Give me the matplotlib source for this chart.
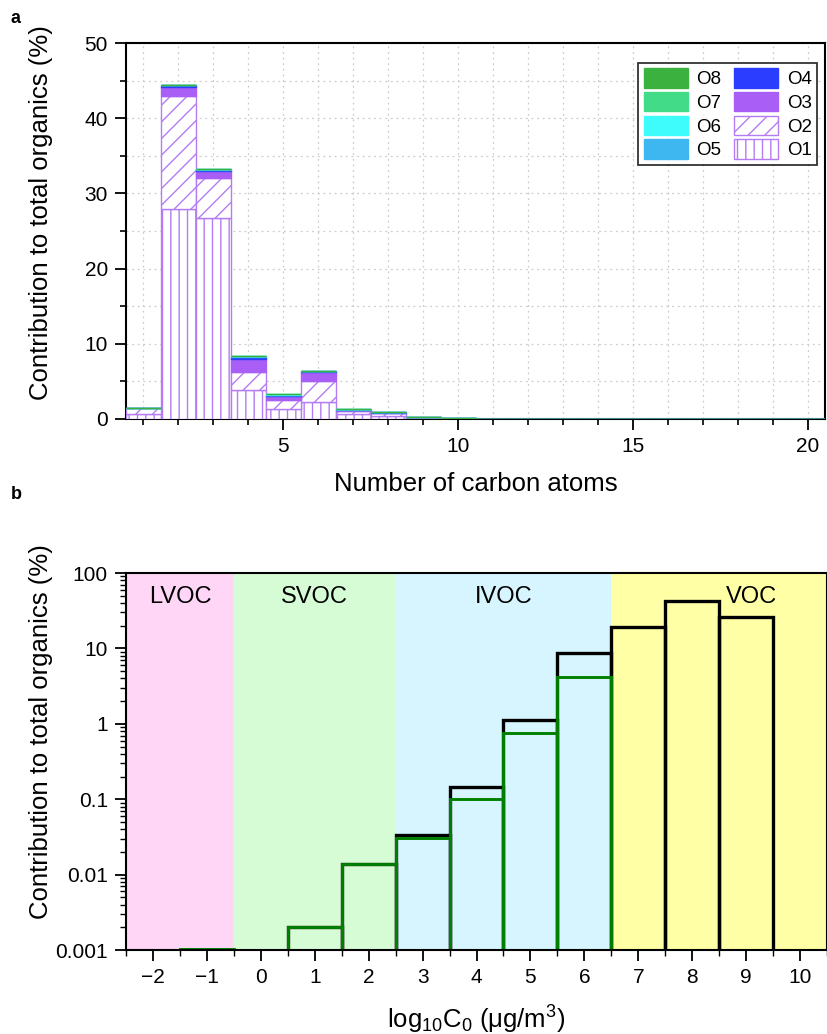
import numpy as np
import matplotlib
matplotlib.use('Agg')
import matplotlib.pyplot as plt
from matplotlib.ticker import MultipleLocator, FixedLocator, FuncFormatter, LogLocator

plt.rcParams['font.family'] = ['Liberation Sans', 'DejaVu Sans']
plt.rcParams['mathtext.default'] = 'regular'
plt.rcParams['hatch.linewidth'] = 1.0

# ---- panel a data: contribution (%) per carbon number, by oxygen count
carbon = np.arange(1, 21)
o1 = [0.7, 27.9, 26.7, 3.9, 1.3, 2.3, 0.72, 0.45, 0.1, 0.04] + [0.0] * 10
o2 = [0.8, 15.1, 5.3, 2.4, 1.2, 2.75, 0.35, 0.3, 0.08, 0.03] + [0.0] * 10
o3 = [0.0, 1.2, 1.0, 1.7, 0.5, 1.15, 0.1, 0.07, 0.03, 0.02] + [0.0] * 10
o4 = [0.0, 0.15, 0.15, 0.3, 0.2, 0.15, 0.08, 0.07, 0.02, 0.02] + [0.0] * 10
o5 = [0.0, 0.03, 0.03, 0.05, 0.05, 0.03, 0.02, 0.01, 0.01, 0.01] + [0.0] * 10
o6 = [0.0, 0.01, 0.01, 0.03, 0.03, 0.02, 0.01, 0.0, 0.0, 0.0] + [0.0] * 10
o7 = [0.0] * 20
o8 = [0.0] * 20
series_names = ['O1', 'O2', 'O3', 'O4', 'O5', 'O6', 'O7', 'O8']

# ---- panel b data: volatility distribution
logc = np.arange(-2, 11)
total = [0, 0, 0, 0.002, 0.0137, 0.034, 0.144, 1.12, 8.6, 19.4, 43.0, 26.3, 0]
green_part = [0, 0.00102, 0, 0.002, 0.0137, 0.031, 0.1, 0.76, 4.2, 0, 0, 0, 0]
regions = ['LVOC', 'SVOC', 'IVOC', 'VOC']
region_edges = [-2.5, -0.5, 2.5, 6.5, 10.5]
region_colors = ['#ffd6f5', '#d6fcd6', '#d6f5ff', '#ffffa6']
region_label_x = [-1.5, 1.0, 4.5, 9.1]

purple = '#b47cf2'
fig = plt.figure(figsize=(8.28, 10.34), dpi=100)

# ================= panel a =================
ax = fig.add_axes([0.1522, 0.5948, 0.8442, 0.3636])
styles = [
    dict(color='white', edgecolor=purple, hatch='||'),
    dict(color='white', edgecolor=purple, hatch='//'),
    dict(color='#a95ff5', edgecolor='#a95ff5'),
    dict(color='#2b3dff', edgecolor='#2b3dff'),
    dict(color='#3eb6f0', edgecolor='#3eb6f0'),
    dict(color='#3ffcfc', edgecolor='#3ffcfc'),
    dict(color='#42dc88', edgecolor='#42dc88'),
    dict(color='#3bb13f', edgecolor='#3bb13f'),
]
bottom = np.zeros(len(carbon))
handles = []
for vals, name, st in zip([o1, o2, o3, o4, o5, o6, o7, o8], series_names, styles):
    vals = np.array(vals)
    b = ax.bar(carbon, vals, width=1.0, bottom=bottom, label=name,
               linewidth=1.0, zorder=3, **st)
    handles.append(b)
    bottom = bottom + vals

ax.set_xlim(0.5, 20.5)
ax.set_ylim(0, 50)
ax.xaxis.set_major_locator(FixedLocator([5, 10, 15, 20]))
ax.xaxis.set_minor_locator(MultipleLocator(1))
ax.yaxis.set_major_locator(MultipleLocator(10))
ax.yaxis.set_minor_locator(MultipleLocator(5))
ax.grid(True, which='both', color='#cccccc', linestyle=(0, (1.5, 3)), linewidth=0.9, zorder=0)
ax.set_axisbelow(True)
ax.tick_params(which='major', direction='out', length=8, width=1.3, labelsize=15, pad=5)
ax.tick_params(which='minor', direction='out', length=4.5, width=1.2)
for s in ax.spines.values():
    s.set_linewidth(1.5)
ax.set_xlabel('Number of carbon atoms', fontsize=18.5)
ax.set_ylabel('Contribution to total organics (%)', fontsize=18.5)
ax.xaxis.set_label_coords(0.5, -0.14)
ax.yaxis.set_label_coords(-0.104, 0.55)

order = [7, 6, 5, 4, 3, 2, 1, 0]
leg = ax.legend([handles[i] for i in order], [series_names[i] for i in order],
                ncol=2, loc='upper right', bbox_to_anchor=(0.989, 0.9476),
                fontsize=13.5, frameon=True, fancybox=False, edgecolor='black',
                handlelength=2.35, handleheight=1.2, labelspacing=0.2,
                columnspacing=0.7, handletextpad=0.45, borderpad=0.3,
                borderaxespad=0.0)
leg.get_frame().set_linewidth(1.3)

fig.text(0.013, 0.982, 'a', fontsize=13, fontweight='bold', va='center')

# ================= panel b =================
bx = fig.add_axes([0.1522, 0.0812, 0.8466, 0.3646])
for i in range(len(regions)):
    bx.axvspan(region_edges[i], region_edges[i + 1], color=region_colors[i], zorder=0, lw=0)
    bx.text(region_label_x[i], 48, regions[i], ha='center', va='center', fontsize=17, zorder=5)

total = np.array(total, dtype=float)
green_part = np.array(green_part, dtype=float)
m = total > 0
bx.bar(logc[m], total[m], width=1.0, fill=False, edgecolor='black', linewidth=2.4, zorder=2)
m = green_part > 0
bx.bar(logc[m], green_part[m], width=1.0, fill=False, edgecolor='#008000', linewidth=2.1, zorder=3)

bx.set_yscale('log')
bx.set_ylim(0.001, 100)
bx.set_xlim(-2.5, 10.5)
bx.xaxis.set_major_locator(MultipleLocator(1))
bx.xaxis.set_minor_locator(MultipleLocator(0.5))
bx.yaxis.set_major_locator(LogLocator(base=10, numticks=10))
bx.yaxis.set_minor_locator(LogLocator(base=10, subs=np.arange(2, 10), numticks=20))
bx.yaxis.set_major_formatter(FuncFormatter(lambda v, p: '{:g}'.format(v)))
bx.xaxis.set_major_formatter(FuncFormatter(lambda v, p: '{:d}'.format(int(round(v))).replace('-', '\u2212')))
bx.tick_params(which='major', direction='out', length=8, width=1.3, labelsize=15, pad=5)
bx.tick_params(which='minor', direction='out', length=4.5, width=1.0)
for s in bx.spines.values():
    s.set_linewidth(1.5)
    s.set_zorder(6)
bx.set_xlabel(r'log$_{10}$C$_0$ ($\mu$g/m$^3$)', fontsize=18.5)
bx.set_ylabel('Contribution to total organics (%)', fontsize=18.5)
bx.xaxis.set_label_coords(0.5, -0.142)
bx.yaxis.set_label_coords(-0.104, 0.579)

fig.text(0.013, 0.522, 'b', fontsize=13, fontweight='bold', va='center')

fig.savefig('out.png', dpi=100)
